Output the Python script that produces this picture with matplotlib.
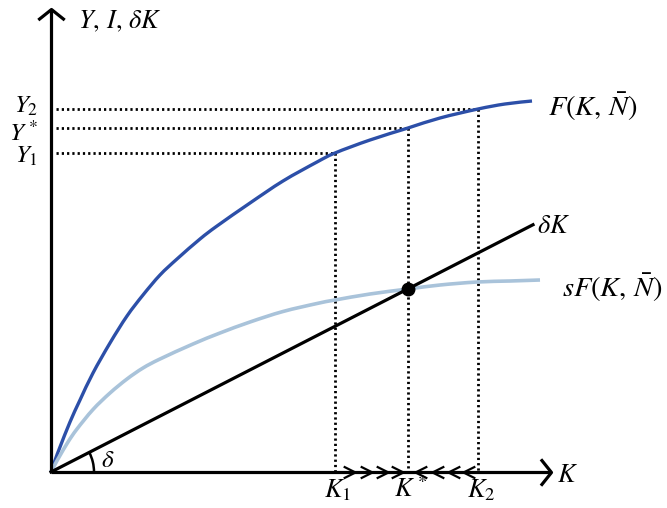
import matplotlib
matplotlib.use('Agg')
import matplotlib.pyplot as plt
from matplotlib.patches import Arc, PathPatch
from matplotlib.path import Path
import numpy as np

plt.rcParams['mathtext.fontset'] = 'stix'

# output curve F(K, N)
output_k = [0, .045, .09, .19, .29, .42, .59, .76, .92, 1.09, 1.26, 1.49, 1.66, 1.99, 2.32,
            2.66, 2.84, 3.19, 3.57, 3.89, 4.27, 4.54, 4.81]
output_y = [0, .13, .25, .50, .72, .99, 1.29, 1.56, 1.77, 1.97, 2.13, 2.33, 2.46, 2.69, 2.91,
            3.10, 3.19, 3.32, 3.44, 3.54, 3.63, 3.68, 3.71]

# saving curve sF(K, N)
saving_k = [0, .045, .09, .17, .26, .42, .59, .76, .92, 1.09, 1.42, 1.69, 1.99, 2.32, 2.66,
            2.84, 3.19, 3.57, 3.89, 4.26, 4.59, 4.89]
saving_y = [0, .085, .165, .30, .43, .625, .79, .93, 1.04, 1.13, 1.28, 1.39, 1.50, 1.605, 1.685,
            1.72, 1.78, 1.83, 1.87, 1.90, 1.91, 1.92]

delta = 0.513
delta_k_end = 4.82

k_levels = [2.84, 3.57, 4.27]
y_levels = [3.19, 3.44, 3.63]
k_labels = ['$K_1$', '$K^*$', '$K_2$']
y_labels = ['$Y_1$', '$Y^*$', '$Y_2$']
y_label_base = [3.09, 3.31, 3.59]

right_arrows = [3.04, 3.21, 3.37, 3.52]
left_arrows = [3.64, 3.81, 3.97, 4.12]

DARK_BLUE = '#2c4fa8'
LIGHT_BLUE = '#a9c3da'


def smooth_path(xs, ys):
    # cubic bezier segments through the read points (catmull-rom style)
    pts = np.column_stack([xs, ys]).astype(float)
    verts = [pts[0]]
    codes = [Path.MOVETO]
    n = len(pts)
    for i in range(n - 1):
        p0 = pts[max(i - 1, 0)]
        p1 = pts[i]
        p2 = pts[i + 1]
        p3 = pts[min(i + 2, n - 1)]
        verts += [p1 + (p2 - p0) / 6.0, p2 - (p3 - p1) / 6.0, p2]
        codes += [Path.CURVE4] * 3
    return Path(verts, codes)


fig = plt.figure(figsize=(6.67, 5.08), dpi=100)
ax = fig.add_axes([0, 0, 1, 1])
ax.set_xlim(-0.51, 6.16)
ax.set_ylim(-0.36, 4.72)
ax.axis('off')

# axes with open arrow heads
ax.plot([0, 5.0], [0, 0], color='black', lw=2.3, solid_capstyle='butt', zorder=3)
ax.plot([0, 0], [0, 4.62], color='black', lw=2.3, solid_capstyle='butt', zorder=3)
head_right = Path([(-0.8, 1), (0, 0), (-0.8, -1)], [Path.MOVETO, Path.LINETO, Path.LINETO])
head_up = Path([(-1, -0.8), (0, 0), (1, -0.8)], [Path.MOVETO, Path.LINETO, Path.LINETO])
ax.plot([5.0], [0], marker=head_right, ms=19, mew=2.3, mec='black', mfc='none', zorder=3)
ax.plot([0], [4.63], marker=head_up, ms=19, mew=2.3, mec='black', mfc='none', zorder=3)

# dotted guides
for k, y in zip(k_levels, y_levels):
    ax.plot([0.05, k], [y, y], color='black', lw=2.0, ls=(0, (0.8, 1.1)), zorder=1)
    ax.plot([k, k], [y, 0], color='black', lw=2.0, ls=(0, (0.8, 1.1)), zorder=1)

# curves
ax.add_patch(PathPatch(smooth_path(output_k, output_y), fc='none', ec=DARK_BLUE,
                       lw=2.4, zorder=2))
ax.add_patch(PathPatch(smooth_path(saving_k, saving_y), fc='none', ec=LIGHT_BLUE,
                       lw=2.6, zorder=2))
ax.plot([0, delta_k_end], [0, delta * delta_k_end], color='black', lw=2.3, zorder=2)
ax.plot([k_levels[1]], [delta * k_levels[1]], 'o', color='black', ms=9, zorder=4)

# angle arc
ang = np.degrees(np.arctan(delta))
ax.add_patch(Arc((0, 0), 0.86, 0.86, theta1=0, theta2=ang, color='black', lw=1.8))
ax.text(0.57, 0.05, r'$\delta$', fontsize=18, ha='center', va='baseline')

# small direction arrows on the K axis
chev_right = Path([(-1, 0.5), (0, 0), (-1, -0.5)], [Path.MOVETO, Path.LINETO, Path.LINETO])
chev_left = Path([(1, 0.5), (0, 0), (1, -0.5)], [Path.MOVETO, Path.LINETO, Path.LINETO])
ax.plot(right_arrows, [0] * len(right_arrows), ls='none', marker=chev_right, ms=17,
        mew=1.6, mec='black', mfc='none', zorder=4)
ax.plot(left_arrows, [0] * len(left_arrows), ls='none', marker=chev_left, ms=17,
        mew=1.6, mec='black', mfc='none', zorder=4)

# labels
for k, lab in zip(k_levels, k_labels):
    ax.text(k + 0.03, -0.25, lab, fontsize=19, ha='center', va='baseline')
for base, lab in zip(y_label_base, y_labels):
    ax.text(-0.13, base, lab, fontsize=18, ha='right', va='baseline')

ax.text(5.06, -0.10, '$K$', fontsize=19, ha='left', va='baseline')
ax.text(0.27, 4.44, r'$Y,\,I,\,\delta K$', fontsize=19, ha='left', va='baseline')
ax.text(4.97, 3.65, r'$F(K,\,\bar{N})$', fontsize=20.5, ha='left', va='center')
ax.text(5.11, 1.84, r'$sF(K,\,\bar{N})$', fontsize=20.5, ha='left', va='center')
ax.text(4.86, 2.39, r'$\delta K$', fontsize=19, ha='left', va='baseline')

fig.savefig('out.png', dpi=100)
